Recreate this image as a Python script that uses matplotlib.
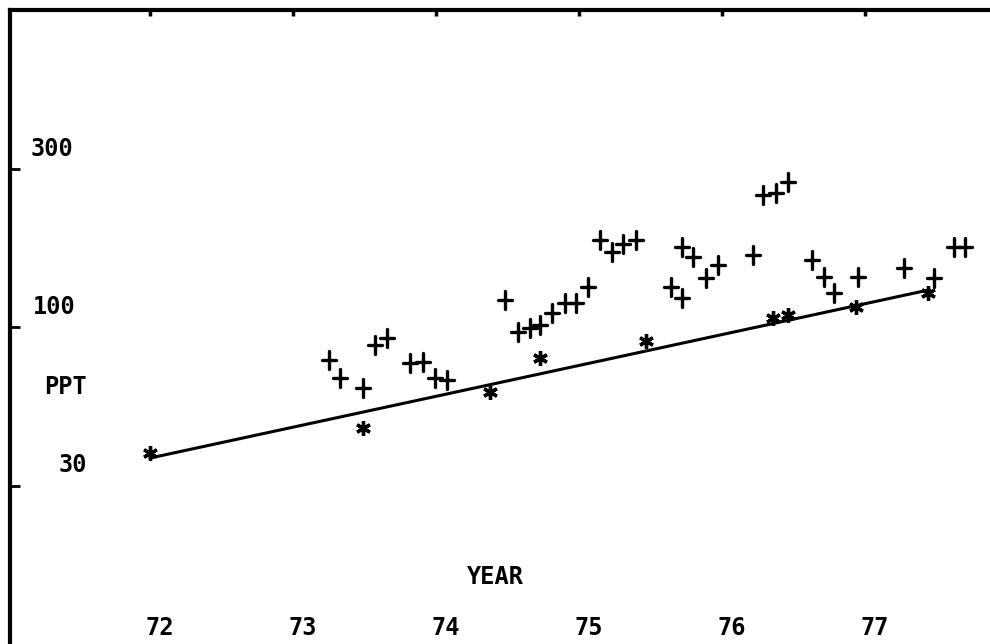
import numpy as np
import matplotlib
matplotlib.use('Agg')
import matplotlib.pyplot as plt
from matplotlib.path import Path
from matplotlib.markers import MarkerStyle
import matplotlib.transforms as mtrans

# data (year, concentration in PPT)
years_plus = [73.25, 73.33, 73.49, 73.57, 73.66, 73.82, 73.91, 73.99, 74.08,
              74.48, 74.57, 74.66, 74.73, 74.81, 74.90, 74.98, 75.06,
              75.15, 75.23, 75.31, 75.40,
              75.64, 75.72, 75.72, 75.80, 75.89, 75.97, 76.22,
              76.29, 76.38, 76.46, 76.63, 76.71, 76.78, 76.95,
              77.27, 77.48, 77.62, 77.70]
ppt_plus = [78.7, 69.0, 64.3, 87.7, 92.3, 76.9, 77.6, 69.0, 68.1,
            121.6, 96.4, 99.3, 101.4, 110.7, 119.1, 119.1, 133.6,
            188.0, 172.5, 182.8, 188.0,
            133.6, 123.4, 178.6, 166.3, 142.9, 157.1, 168.6,
            260.6, 264.6, 286.4, 162.6, 143.9, 128.0, 143.9,
            153.5, 142.9, 178.6, 178.6]

years_star = [72.0, 73.49, 74.38, 74.73, 75.47, 76.36, 76.46, 76.94, 77.44]
ppt_star = [40.0, 48.0, 62.4, 79.8, 90.4, 106.7, 109.0, 115.6, 128.0]

line_years = [72.0, 77.45]
line_ppt = [38.6, 131.0]

x_ticks = [72, 73, 74, 75, 76, 77]
x_labels = ['72', '73', '74', '75', '76', '77']
y_ticks = [10 ** 2.5, 100, 10 ** 1.5]
y_labels = ['300', '100', '30']

font = dict(family='DejaVu Sans Mono', fontweight='bold', fontsize=17, color='black')

fig = plt.figure(figsize=(9.9, 6.44), dpi=100)
ax = fig.add_axes([10 / 990, 0.0, 980 / 990, 634 / 644])
ax.set_yscale('log')
ax.set_xlim(72 - 140 / 143, 72 + 840 / 143)
ax.set_ylim(10, 1000)

plus_path = Path([(0, -1.25), (0, 1.25), (-0.95, 0.05), (0.95, 0.05)],
                 [Path.MOVETO, Path.LINETO, Path.MOVETO, Path.LINETO])
plus_marker = MarkerStyle(plus_path, capstyle='round')
star_marker = MarkerStyle((6, 2, 0), capstyle='round')

ax.plot(line_years, line_ppt, color='black', lw=2.2, solid_capstyle='round')
ax.plot(years_plus, ppt_plus, ls='none', marker=plus_marker, ms=12.5, mew=2.4,
        color='black', mfc='none')
ax.plot(years_star, ppt_star, ls='none', marker=star_marker, ms=10.5, mew=2.4,
        color='black')

# frame: only the left and top lines remain on the scan
ax.spines['right'].set_visible(False)
ax.spines['bottom'].set_visible(False)
ax.spines['left'].set_linewidth(3)
ax.spines['top'].set_linewidth(3)

ax.yaxis.set_minor_locator(matplotlib.ticker.NullLocator())
ax.set_yticks(y_ticks)
ax.set_yticklabels([])
ax.tick_params(axis='y', direction='in', length=7, width=2, left=True, right=False)
ax.set_xticks(x_ticks)
ax.set_xticklabels([])
ax.tick_params(axis='x', direction='in', length=4, width=2.5, top=True,
               bottom=False, labelbottom=False)

# y labels sit a little above their tick, inside the frame
ylab_x = [52, 54, 73]
for yv, lab, px in zip(y_ticks, y_labels, ylab_x):
    tr = mtrans.offset_copy(ax.get_yaxis_transform(), fig=fig, x=0, y=20, units='dots')
    ax.text((px - 10) / 980, yv, lab, transform=tr, ha='center', va='center', **font)

# x labels near the bottom edge
for xv, lab in zip(x_ticks, x_labels):
    tr = mtrans.offset_copy(ax.get_xaxis_transform(), fig=fig, x=10, y=0, units='dots')
    ax.text(xv, 16 / 634, lab, transform=tr, ha='center', va='center', **font)

fig.text(65 / 990, 1 - 387 / 644, 'PPT', ha='center', va='center', **font)
fig.text(495 / 990, 1 - 577 / 644, 'YEAR', ha='center', va='center', **font)

fig.savefig('out.png', dpi=100)
